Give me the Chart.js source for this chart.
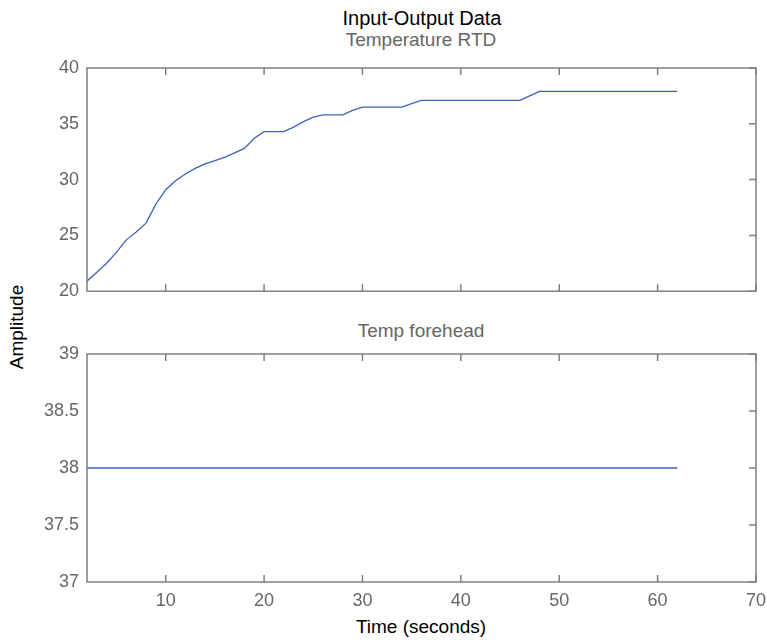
<!DOCTYPE html>
<html>
<head>
<meta charset="utf-8">
<script src="https://cdn.jsdelivr.net/npm/chart.js@4"></script>
<style>
  body { margin: 0; background: #fff; }
  #wrap { position: relative; width: 767px; height: 640px; overflow: hidden; font-family: "Liberation Sans", Arial, sans-serif; }
  .lbl { position: absolute; white-space: nowrap; transform: translate(-50%, -50%); }
  canvas { position: absolute; left: 0; }
</style>
</head>
<body>
<div id="wrap">
  <div class="lbl" style="left:422px; top:18px; font-size:20px; color:#000;">Input-Output Data</div>
  <div class="lbl" style="left:421px; top:40px; font-size:19px; color:#666;">Temperature RTD</div>
  <div class="lbl" style="left:421px; top:331px; font-size:19px; color:#666;">Temp forehead</div>
  <div class="lbl" style="left:17px; top:327px; font-size:19px; color:#000; transform: translate(-50%, -50%) rotate(-90deg);">Amplitude</div>
  <div class="lbl" style="left:421px; top:627px; font-size:19px; color:#000;">Time (seconds)</div>
  <div style="position:absolute; left:0; top:0; width:767px; height:310px;"><canvas id="top"></canvas></div>
  <div style="position:absolute; left:0; top:300px; width:767px; height:340px;"><canvas id="bottom"></canvas></div>
</div>
<script>
// time samples (seconds)
const times = [2, 3, 4, 5, 6, 7, 8, 9, 10, 11, 12, 13, 14, 15, 16, 17, 18, 19, 20, 21,
  22, 23, 24, 25, 26, 27, 28, 29, 30, 31, 32, 33, 34, 35, 36, 37, 38, 39, 40, 41,
  42, 43, 44, 45, 46, 47, 48, 49, 50, 51, 52, 53, 54, 55, 56, 57, 58, 59, 60, 61, 62];

// Temperature RTD
const rtd = [20.9, 21.7, 22.5, 23.5, 24.6, 25.3, 26.1, 27.8, 29.1, 29.9, 30.5, 31.0, 31.4, 31.7, 32.0, 32.4, 32.8, 33.7, 34.3, 34.3,
  34.3, 34.7, 35.2, 35.6, 35.8, 35.8, 35.8, 36.2, 36.5, 36.5, 36.5, 36.5, 36.5, 36.8, 37.1, 37.1, 37.1, 37.1, 37.1, 37.1,
  37.1, 37.1, 37.1, 37.1, 37.1, 37.5, 37.9, 37.9, 37.9, 37.9, 37.9, 37.9, 37.9, 37.9, 37.9, 37.9, 37.9, 37.9, 37.9, 37.9, 37.9];

// Temp forehead
const forehead = [38, 38, 38, 38, 38, 38, 38, 38, 38, 38, 38, 38, 38, 38, 38, 38, 38, 38, 38, 38,
  38, 38, 38, 38, 38, 38, 38, 38, 38, 38, 38, 38, 38, 38, 38, 38, 38, 38, 38, 38,
  38, 38, 38, 38, 38, 38, 38, 38, 38, 38, 38, 38, 38, 38, 38, 38, 38, 38, 38, 38, 38];

const xTicks = [10, 20, 30, 40, 50, 60, 70];
const yTicksTop = [20, 25, 30, 35, 40];
const yTicksBottom = [37, 37.5, 38, 38.5, 39];

const lineColor = '#4060c0';
const axisColor = '#808080';
const tickColor = '#666666';
const tickFont = { family: 'Liberation Sans', size: 18 };

// matlab style box with inward ticks on top/bottom/right
const boxPlugin = {
  id: 'box',
  afterDraw(chart, args, opts) {
    const { ctx, chartArea: a, scales } = chart;
    ctx.save();
    ctx.strokeStyle = axisColor;
    ctx.lineWidth = 1.5;
    ctx.strokeRect(a.left, a.top, a.right - a.left, a.bottom - a.top);
    ctx.beginPath();
    for (const v of xTicks) {
      const px = scales.x.getPixelForValue(v);
      ctx.moveTo(px, a.top); ctx.lineTo(px, a.top + 7);
      ctx.moveTo(px, a.bottom); ctx.lineTo(px, a.bottom - 7);
    }
    for (const v of opts.yTicks) {
      const py = scales.y.getPixelForValue(v);
      ctx.moveTo(a.right, py); ctx.lineTo(a.right - 7, py);
    }
    ctx.stroke();
    ctx.restore();
  }
};

function makeChart(id, values, yMin, yMax, yTicks, showX, padding) {
  return new Chart(document.getElementById(id), {
    type: 'line',
    data: {
      datasets: [{
        data: times.map((t, i) => ({ x: t, y: values[i] })),
        borderColor: lineColor,
        borderWidth: 1.3,
        pointRadius: 0,
        tension: 0,
        fill: false
      }]
    },
    options: {
      responsive: true,
      maintainAspectRatio: false,
      animation: false,
      layout: { padding: padding },
      scales: {
        x: {
          type: 'linear',
          min: 2,
          max: 70,
          display: showX,
          afterBuildTicks: s => { s.ticks = xTicks.map(v => ({ value: v })); },
          afterFit: s => {
            if (showX) s.height = 30;
            s.paddingLeft = 0;
            s.paddingRight = 0;
          },
          grid: { display: false, drawTicks: false },
          border: { display: false },
          ticks: { color: tickColor, font: tickFont, padding: 8, maxRotation: 0, autoSkip: false }
        },
        y: {
          min: yMin,
          max: yMax,
          afterBuildTicks: s => { s.ticks = yTicks.map(v => ({ value: v })); },
          afterFit: s => { s.width = 87; },
          grid: { display: false, drawTicks: false },
          border: { display: false },
          ticks: { color: tickColor, font: tickFont, padding: 8, callback: v => String(v) }
        }
      },
      plugins: {
        legend: { display: false },
        tooltip: { enabled: false },
        box: { yTicks: yTicks }
      }
    },
    plugins: [boxPlugin]
  });
}

makeChart('top', rtd, 20, 40, yTicksTop, false, { left: 0, right: 11, top: 68, bottom: 16 });
makeChart('bottom', forehead, 37, 39, yTicksBottom, true, { left: 0, right: 11, top: 54, bottom: 28 });
</script>
</body>
</html>
